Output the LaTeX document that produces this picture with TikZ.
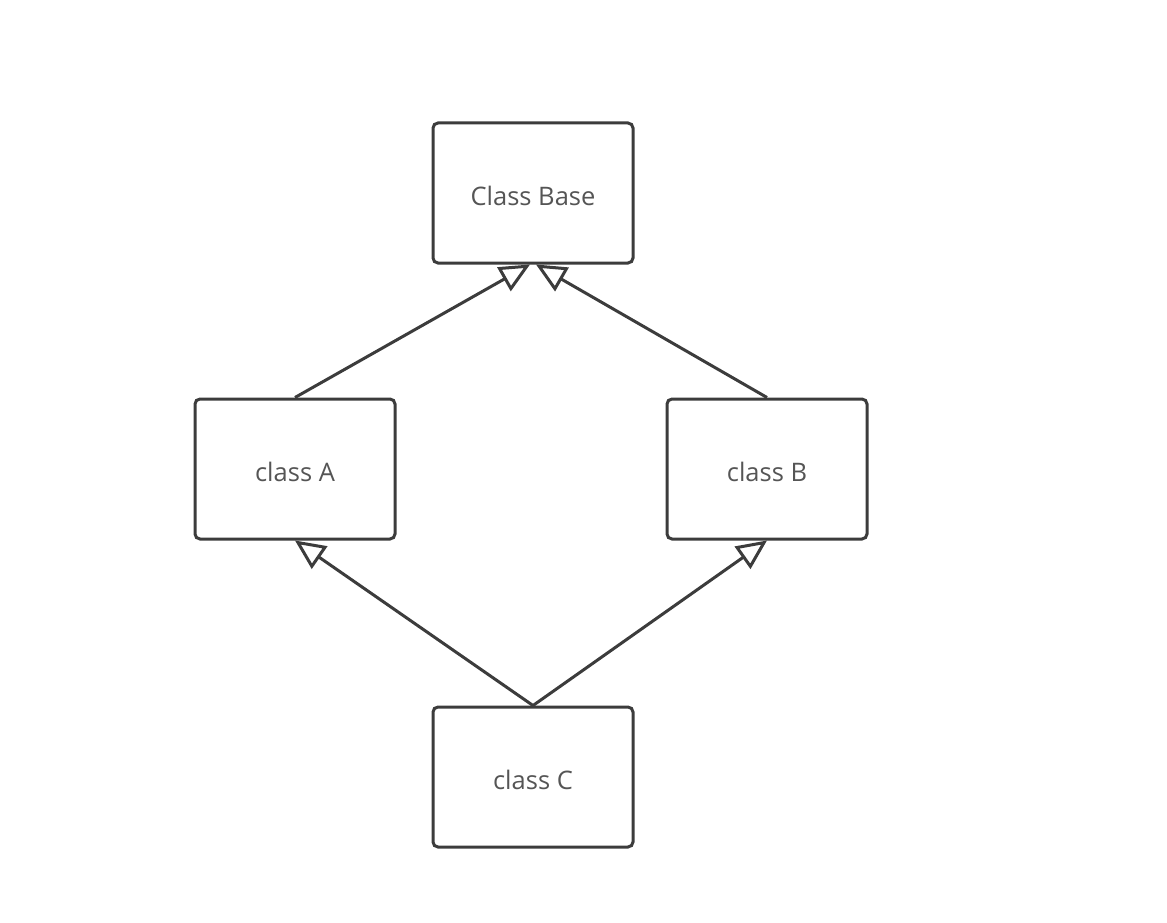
\documentclass[tikz,border=0pt]{standalone}
\usepackage{fontspec}
\setmainfont{Open Sans}
\usetikzlibrary{arrows.meta}
\definecolor{linec}{HTML}{3C3C3C}
\definecolor{textc}{HTML}{555555}
\begin{document}
\begin{tikzpicture}[x=1pt,y=-1pt,
  classbox/.style={draw=linec, line width=3pt, rounded corners=5pt, fill=white,
    minimum width=200pt, minimum height=140pt, inner sep=0pt},
  lbl/.style={font=\fontsize{25.5}{30}\selectfont, text=textc, inner sep=0pt},
  inherit/.style={draw=linec, line width=3pt,
    -{Triangle[open, length=30pt, width=27pt, fill=white]}}]
\useasboundingbox (0,0) rectangle (1167,923);
\node[classbox] (base) at (533,193) {};
\node[classbox] (a) at (295,469) {};
\node[classbox] (b) at (767,469) {};
\node[classbox] (c) at (533,777) {};
\node[lbl] (tbase) at ([yshift=-2.5pt]base.center) {Class Base};
\node[lbl] (ta) at ([yshift=-2.5pt]a.center) {class A};
\node[lbl] (tb) at ([yshift=-2.5pt]b.center) {class B};
\node[lbl] (tc) at ([yshift=-2.5pt]c.center) {class C};
\draw[inherit] (a.north) -- ([xshift=-3pt]base.south);
\draw[inherit] (b.north) -- ([xshift=3pt]base.south);
\draw[inherit] (c.north) -- (a.south);
\draw[inherit] (c.north) -- (b.south);
\end{tikzpicture}
\end{document}
